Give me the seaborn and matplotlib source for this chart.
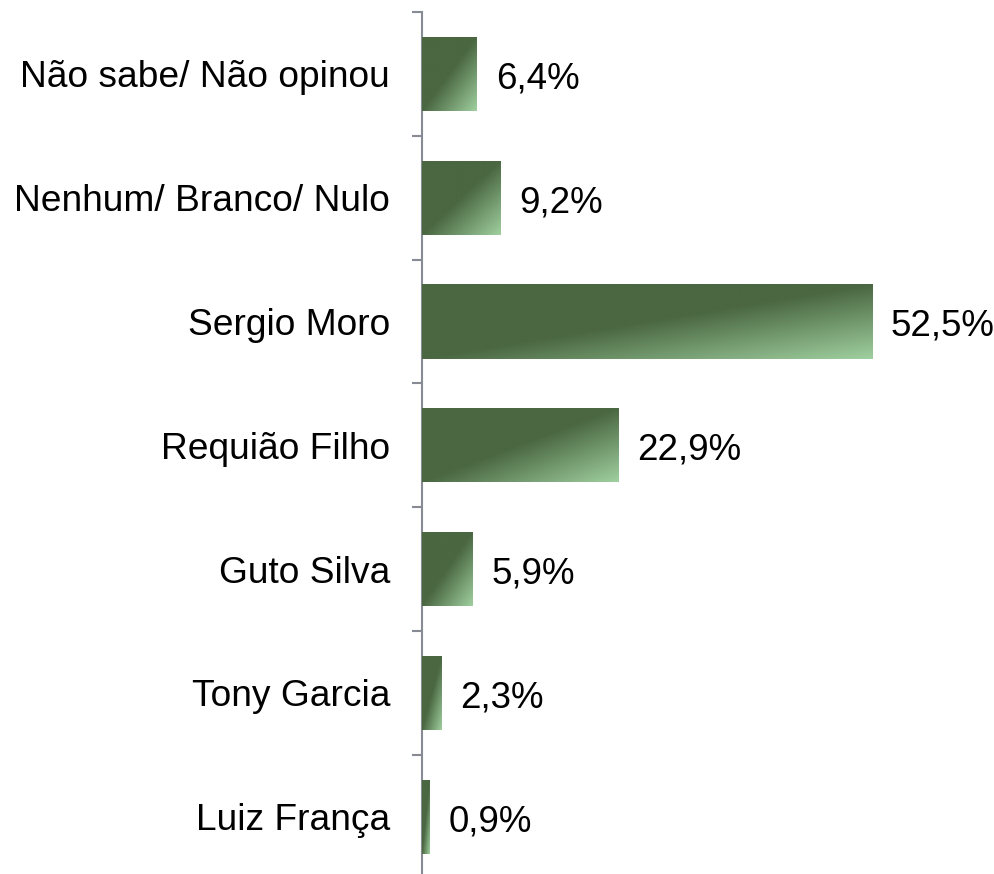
import matplotlib
matplotlib.use('Agg')
from matplotlib import pyplot as plt
from matplotlib.colors import LinearSegmentedColormap
import numpy as np
import pandas as pd
import seaborn as sns

candidatos = ['Não sabe/ Não opinou', 'Nenhum/ Branco/ Nulo', 'Sergio Moro',
              'Requião Filho', 'Guto Silva', 'Tony Garcia', 'Luiz França']
percentual = [6.4, 9.2, 52.5, 22.9, 5.9, 2.3, 0.9]
rotulos = ['6,4%', '9,2%', '52,5%', '22,9%', '5,9%', '2,3%', '0,9%']

df = pd.DataFrame({'Candidato': candidatos, 'Percentual': percentual})

sns.set_style('white')
plt.rcParams['font.family'] = ['Liberation Sans', 'DejaVu Sans']

escuro = '#4a6741'
claro = '#9fcf9f'
grad = LinearSegmentedColormap.from_list('g', [(0, escuro), (0.5, escuro), (1, claro)])

fig = plt.figure(figsize=(9.94, 8.74), dpi=100)
ax = fig.add_axes([422 / 994, -0.0052, 1 - 422 / 994, 0.9915])
sns.barplot(data=df, x='Percentual', y='Candidato', orient='h', color=escuro,
            width=0.6, saturation=1, ax=ax)

# gradiente diagonal dentro de cada barra
u = np.linspace(0, 1, 200)
v = np.linspace(0, 1, 100)
U, V = np.meshgrid(u, v)
img = (U + V) / 2
for p in ax.patches:
    x0, y0 = p.get_x(), p.get_y()
    w, h = p.get_width(), p.get_height()
    im = ax.imshow(img, cmap=grad, vmin=0, vmax=1, aspect='auto',
                   extent=(x0, x0 + w, y0 + h, y0), origin='upper',
                   interpolation='bilinear', zorder=3)
    im.set_clip_path(p)

txts = ax.bar_label(ax.containers[0], labels=rotulos, padding=13, fontsize=26.5, color='black')
for t in txts:
    t.xyann = (13.5, -3.5)

ax.set_xlim(0, 66.7)
ax.set_ylim(6.5, -0.5)
ax.set_xlabel('')
ax.set_ylabel('')
ax.set_xticks([])

for s in ['top', 'right', 'bottom']:
    ax.spines[s].set_visible(False)
ax.spines['left'].set_color('#878b93')
ax.spines['left'].set_linewidth(1.5)

ax.set_yticks(np.arange(-0.5, 7, 1), minor=True)
ax.tick_params(axis='y', which='minor', length=7.5, width=1.5, color='#878b93', left=True)
ax.tick_params(axis='y', which='major', length=0, pad=23, labelsize=26.7, labelcolor='black')

fig.savefig('out.png', dpi=100)
